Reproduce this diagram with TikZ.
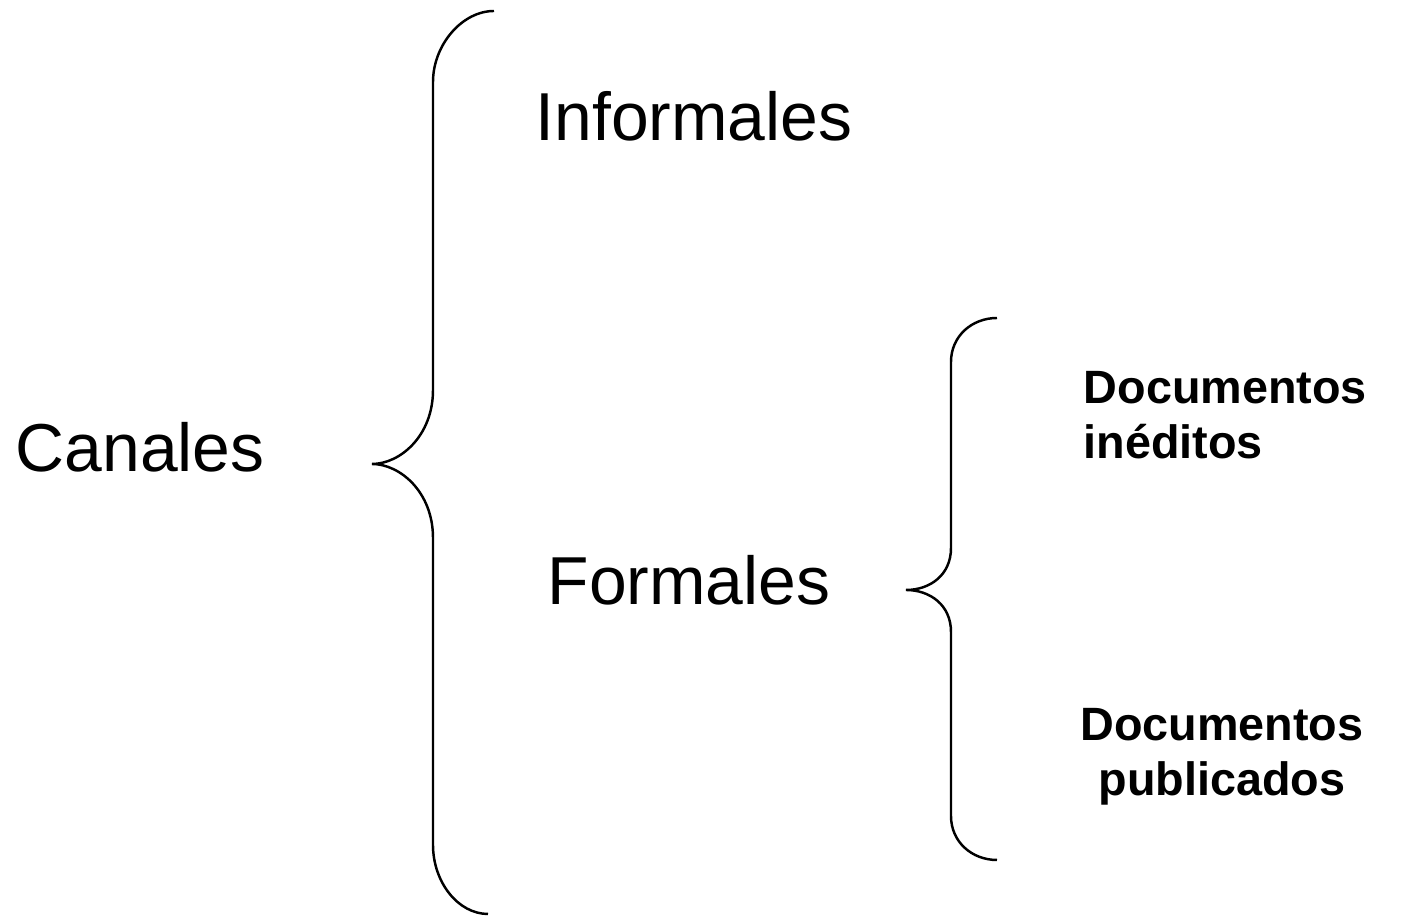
\documentclass[tikz,border=0pt]{standalone}
\usepackage{fontspec}
\setmainfont{Liberation Sans}
\usetikzlibrary{positioning,calc}
\tikzset{
    brace/.style  = {draw=black, line width=0.7pt},
    big/.style    = {inner sep=0pt, font=\fontsize{19.3pt}{23pt}\selectfont},
    small/.style  = {inner sep=0pt, font=\fontsize{13.3pt}{15.9pt}\selectfont\bfseries},
}
\begin{document}
\begin{tikzpicture}
    \useasboundingbox (0,0) rectangle (14.02,-9.16);
    % Nodes
    \node[big, anchor=base west] (canales) at (0.15,-4.72) {Canales};
    \node[big, anchor=base west] (informales) at (5.35,-1.41) {Informales};
    \node[big, anchor=base west] (formales) at (5.47,-6.05) {Formales};
    \node[small, anchor=base west, align=left] (ineditos) at (10.83,-4.59) {Documentos\\inéditos};
    \node[small, anchor=base, align=center] (publicados) at (12.22,-7.96) {Documentos\\publicados};
    % Brace ends
    \coordinate (bTop) at (4.94,-0.11);
    \coordinate (bTip) at (3.72,-4.64);
    \coordinate (bBot) at (4.88,-9.14);
    \coordinate (sTop) at (9.97,-3.18);
    \coordinate (sTip) at (9.06,-5.90);
    \coordinate (sBot) at (9.97,-8.60);
    % Braces
    \draw[brace] (bTop) .. controls (4.62,-0.11) and (4.33,-0.45) .. (4.33,-0.82)
        -- (4.33,-3.90) .. controls (4.33,-4.36) and (4.00,-4.64) .. (bTip)
        .. controls (4.00,-4.64) and (4.33,-4.92) .. (4.33,-5.38)
        -- (4.33,-8.45) .. controls (4.33,-8.82) and (4.58,-9.14) .. (bBot);
    \draw[brace] (sTop) .. controls (9.72,-3.18) and (9.51,-3.36) .. (9.51,-3.62)
        -- (9.51,-5.48) .. controls (9.51,-5.75) and (9.30,-5.90) .. (sTip)
        .. controls (9.30,-5.90) and (9.51,-6.05) .. (9.51,-6.32)
        -- (9.51,-8.16) .. controls (9.51,-8.42) and (9.72,-8.60) .. (sBot);
\end{tikzpicture}
\end{document}
